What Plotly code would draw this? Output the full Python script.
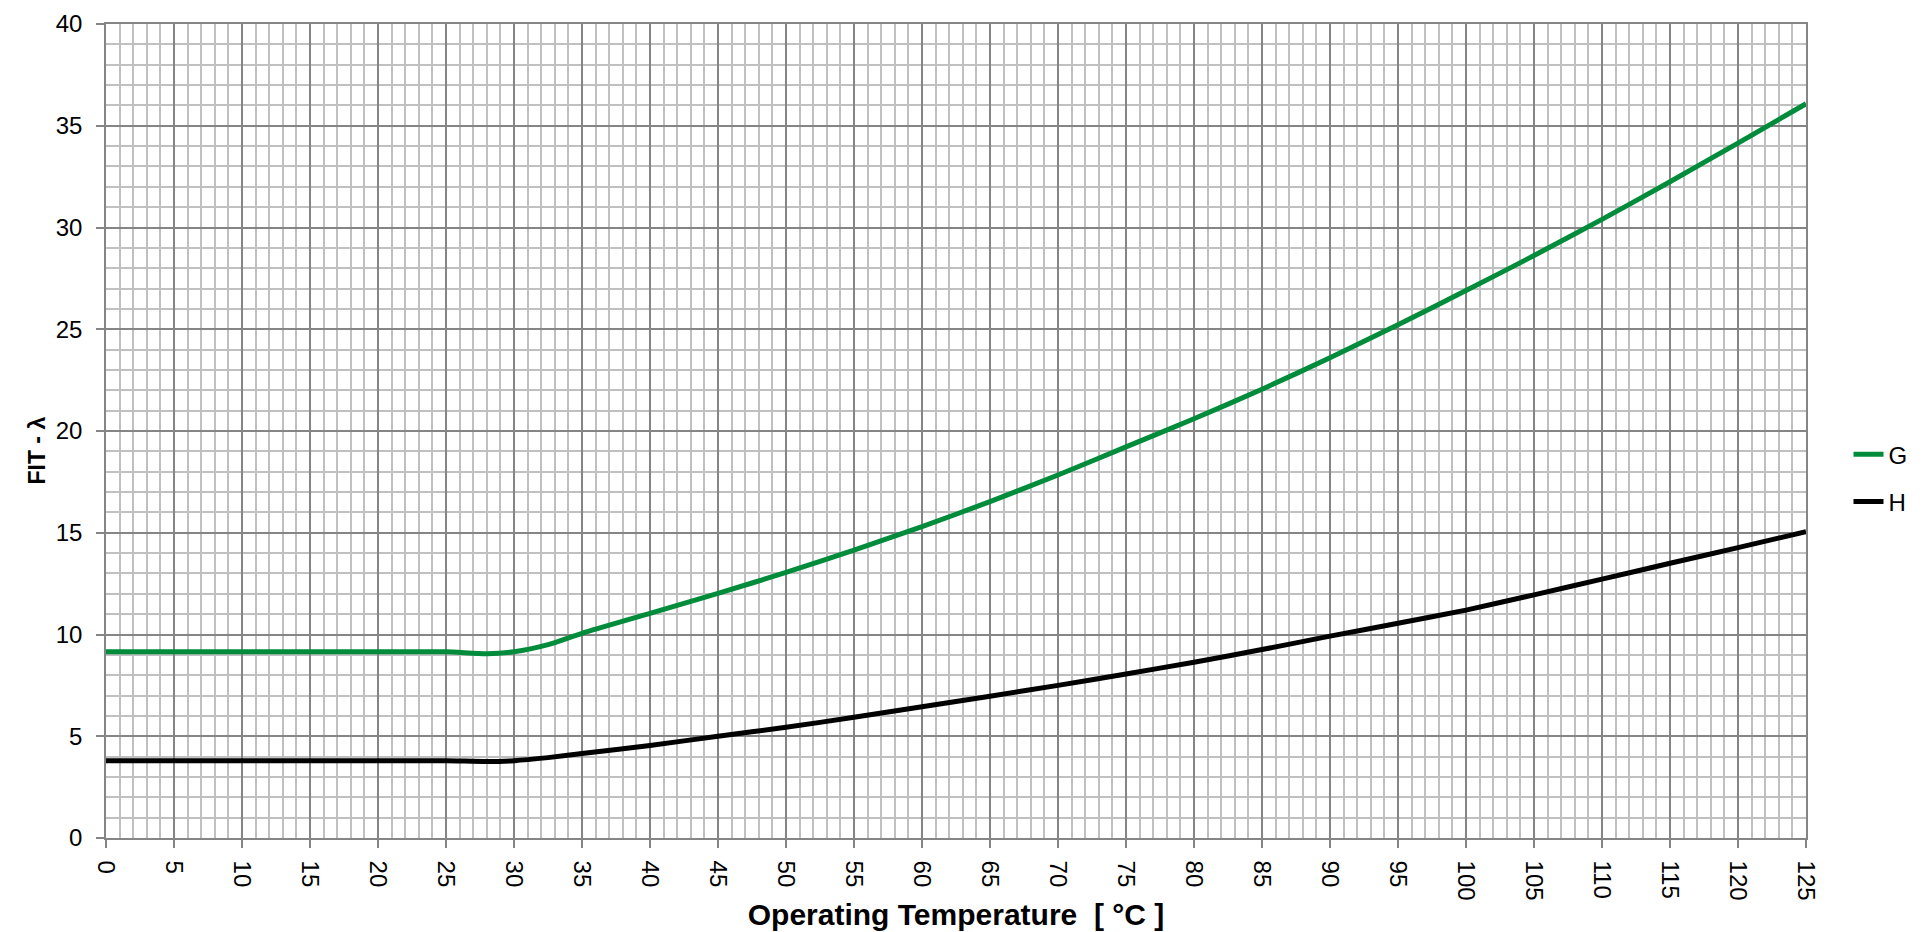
import plotly.graph_objects as go

temperature = [0, 5, 10, 15, 20, 25, 28, 30, 32.5, 35, 40, 45, 50, 55, 60, 65, 70,
               75, 80, 85, 90, 95, 100, 105, 110, 115, 120, 125]
fit_g = [9.15, 9.15, 9.15, 9.15, 9.15, 9.15, 9.06, 9.15, 9.5, 10.06, 11.04, 12.02,
         13.05, 14.15, 15.3, 16.53, 17.84, 19.22, 20.6, 22.05, 23.6, 25.22, 26.9,
         28.62, 30.4, 32.25, 34.15, 36.08]
fit_h = [3.8, 3.8, 3.8, 3.8, 3.8, 3.8, 3.76, 3.8, 3.95, 4.15, 4.55, 5.0, 5.44, 5.93,
         6.45, 6.97, 7.5, 8.06, 8.64, 9.26, 9.92, 10.55, 11.2, 11.95, 12.72, 13.5,
         14.27, 15.05]
series_names = ["G", "H"]
series_colors = ["#008C3A", "#000000"]
x_title = "Operating Temperature  [ °C ]"
y_title = "FIT - λ"

FONT = "Liberation Sans, Arial, sans-serif"
MAJOR = "#858585"
MINOR = "#c0c0c0"

fig = go.Figure()
for name, vals, col in zip(series_names, [fit_g, fit_h], series_colors):
    fig.add_trace(go.Scatter(
        x=temperature, y=vals, mode="lines", name=name, legendgroup=name,
        line=dict(color=col, width=5, shape="spline", smoothing=0.6),
        hoverinfo="x+y+name",
    ))

axis_common = dict(
    showgrid=True, gridcolor=MAJOR, gridwidth=1.5,
    showline=True, linecolor=MAJOR, linewidth=1.5, mirror=True,
    ticks="outside", ticklen=8, tickwidth=1.5, tickcolor=MAJOR,
    tickfont=dict(family=FONT, size=24, color="#000000"),
    zeroline=False,
    minor=dict(dtick=1, showgrid=True, gridcolor=MINOR, gridwidth=1.5, ticks=""),
)

fig.update_layout(
    width=1928, height=932,
    margin=dict(l=98, r=130, t=16, b=102, autoexpand=False),
    paper_bgcolor="white", plot_bgcolor="white",
    font=dict(family=FONT, color="#000000"),
    xaxis=dict(
        range=[0, 125], tick0=0, dtick=5, tickangle=90, ticklabelstandoff=8,
        title=dict(text="<b>" + x_title + "</b>",
                   font=dict(family=FONT, size=30), standoff=4),
        **axis_common,
    ),
    yaxis=dict(
        range=[0, 40], tick0=0, dtick=5, ticklabelstandoff=9,
        **axis_common,
    ),
    annotations=[dict(
        text="<b>" + y_title + "</b>", xref="paper", yref="paper",
        x=-0.0406, y=0.476, xanchor="center", yanchor="middle",
        textangle=-90, showarrow=False,
        font=dict(family=FONT, size=23, color="#000000"),
    )],
    legend=dict(
        x=1.025, xanchor="left", y=0.442, yanchor="middle",
        font=dict(family=FONT, size=24), tracegroupgap=13,
        bgcolor="rgba(0,0,0,0)",
    ),
    showlegend=True,
)

fig.write_html("out.html")
